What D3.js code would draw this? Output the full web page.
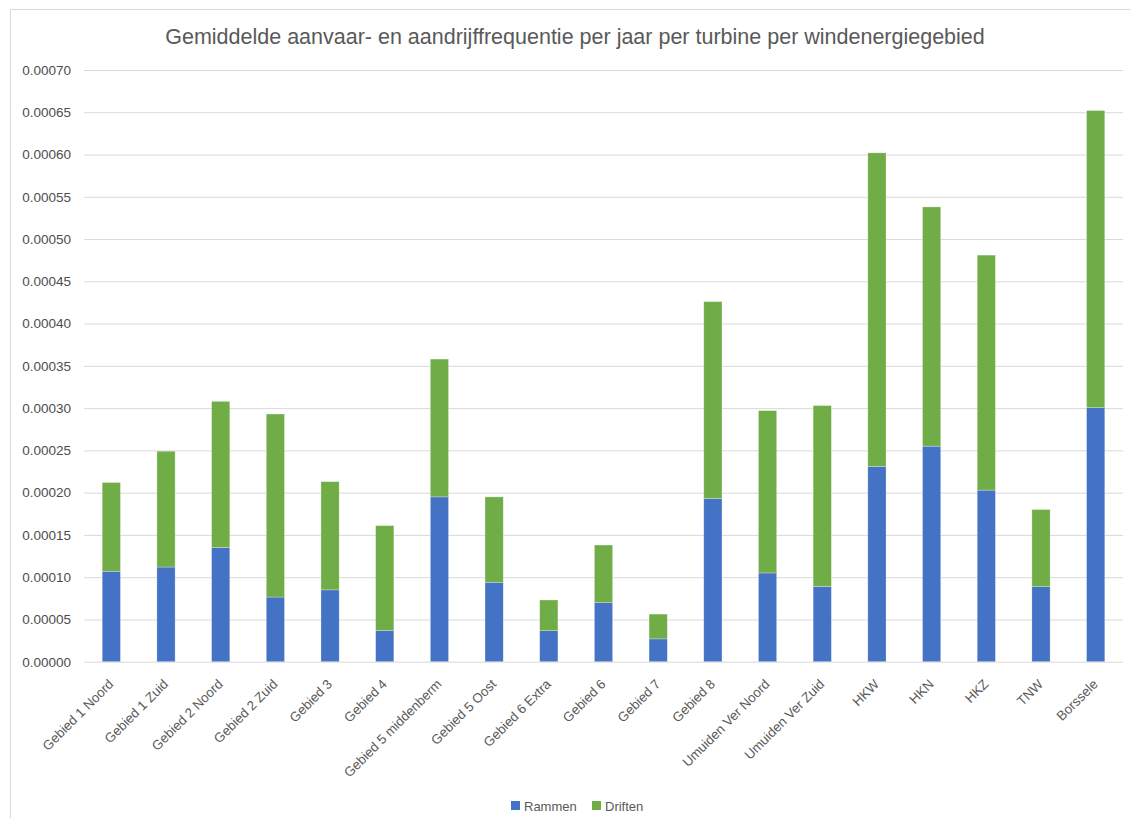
<!DOCTYPE html>
<html>
<head>
<meta charset="utf-8">
<script src="https://cdn.jsdelivr.net/npm/d3@7"></script>
<style>
  body { margin: 0; background: #fff; }
  #chart text { font-family: "Liberation Sans", Arial, sans-serif; fill: #595959; }
  .grid line { stroke: #d9d9d9; stroke-width: 1; }
</style>
</head>
<body>
<div id="chart"></div>
<script>
// data
var gebieden = ["Gebied 1 Noord", "Gebied 1 Zuid", "Gebied 2 Noord", "Gebied 2 Zuid", "Gebied 3",
    "Gebied 4", "Gebied 5 middenberm", "Gebied 5 Oost", "Gebied 6 Extra", "Gebied 6", "Gebied 7",
    "Gebied 8", "Umuiden Ver Noord", "Umuiden Ver Zuid", "HKW", "HKN", "HKZ", "TNW", "Borssele"];

var rammen = [0.000107, 0.000112, 0.000135, 0.0000765, 0.000085, 0.0000368, 0.000195, 0.000094,
    0.0000367, 0.0000698, 0.000027, 0.000193, 0.000105, 0.000089, 0.000231, 0.000255, 0.000203,
    0.0000888, 0.0003005];

var driften = [0.000105, 0.000137, 0.000173, 0.0002165, 0.000128, 0.0001242, 0.000163, 0.000101,
    0.0000363, 0.0000682, 0.0000293, 0.000233, 0.000192, 0.000214, 0.000371, 0.000283, 0.000278,
    0.0000912, 0.0003515];

var seriesNames = ["Rammen", "Driften"];
var seriesColors = ["#4472C4", "#70AD47"];
var yTicks = [0, 0.00005, 0.0001, 0.00015, 0.0002, 0.00025, 0.0003, 0.00035,
    0.0004, 0.00045, 0.0005, 0.00055, 0.0006, 0.00065, 0.0007];

var title = "Gemiddelde aanvaar- en aandrijffrequentie per jaar per turbine per windenergiegebied";

/**
 * Constructor for the stacked bar chart
 */
function StackedChart(){
    var self = this;
    self.init();
};

/**
 * Creates the svg and the frame around the chart
 */
StackedChart.prototype.init = function(){
    var self = this;
    self.width = 1130;
    self.height = 818;
    self.margin = {top: 70, right: 7, bottom: 156, left: 84};

    self.svg = d3.select("#chart").append("svg")
        .attr("width", self.width)
        .attr("height", self.height);

    //light border of the chart area
    self.svg.append("rect")
        .attr("x", 10.5).attr("y", 9.5)
        .attr("width", self.width).attr("height", self.height)
        .attr("fill", "#fff")
        .attr("stroke", "#d9d9d9");
};

/**
 * Draws grid, stacked bars, labels and legend
 */
StackedChart.prototype.update = function(){
    var self = this;

    var rows = gebieden.map(function(g, i){
        return {gebied: g, Rammen: rammen[i], Driften: driften[i]};
    });

    var x = d3.scaleBand()
        .domain(gebieden)
        .range([self.margin.left, self.width - self.margin.right])
        .paddingInner(0.667)
        .paddingOuter(0.333);

    var y = d3.scaleLinear()
        .domain([0, 0.0007])
        .range([self.height - self.margin.bottom - 0.3, self.margin.top]);

    //horizontal gridlines with tick labels
    var yAxis = d3.axisLeft(y)
        .tickValues(yTicks)
        .tickSize(-(self.width - self.margin.left - self.margin.right))
        .tickPadding(13)
        .tickFormat(d3.format(".5f"));

    var gy = self.svg.append("g")
        .attr("class", "grid")
        .attr("transform", "translate(" + self.margin.left + ",0)")
        .call(yAxis);
    gy.select(".domain").remove();
    gy.selectAll("text").style("font-size", "13.5px").style("fill", "#4d4d4d");

    var stack = d3.stack().keys(seriesNames);
    var color = d3.scaleOrdinal().domain(seriesNames).range(seriesColors);

    self.svg.selectAll(".serie")
        .data(stack(rows))
        .enter()
        .append("g")
        .attr("class", "serie")
        .attr("fill", d => color(d.key))
        .selectAll("rect")
        .data(d => d)
        .enter()
        .append("rect")
        .attr("x", d => x(d.data.gebied))
        .attr("width", x.bandwidth())
        .attr("y", d => y(d[1]))
        .attr("height", d => y(d[0]) - y(d[1]))
        .attr("stroke", "rgba(255,255,255,0.45)")
        .attr("stroke-width", 0.6);

    //category labels, slanted
    self.svg.selectAll(".xlabel")
        .data(gebieden)
        .enter()
        .append("text")
        .attr("class", "xlabel")
        .attr("text-anchor", "end")
        .attr("transform", d => "translate(" + (x(d) + x.bandwidth() / 2 + 3) + ",685) rotate(-45)")
        .style("font-size", "13.3px")
        .text(d => d);

    //title
    self.svg.append("text")
        .attr("x", 575)
        .attr("y", 44)
        .attr("text-anchor", "middle")
        .style("font-size", "21.5px")
        .text(title);

    //legend
    var legend = self.svg.append("g").attr("transform", "translate(511,801)");
    var legendX = [0, 81];
    seriesNames.forEach(function(name, i){
        legend.append("rect")
            .attr("x", legendX[i]).attr("y", 0)
            .attr("width", 9).attr("height", 9)
            .attr("fill", seriesColors[i]);
        legend.append("text")
            .attr("x", legendX[i] + 13)
            .attr("y", 9.5)
            .style("font-size", "13px")
            .text(name);
    });
};

var chart = new StackedChart();
chart.update();
</script>
</body>
</html>
